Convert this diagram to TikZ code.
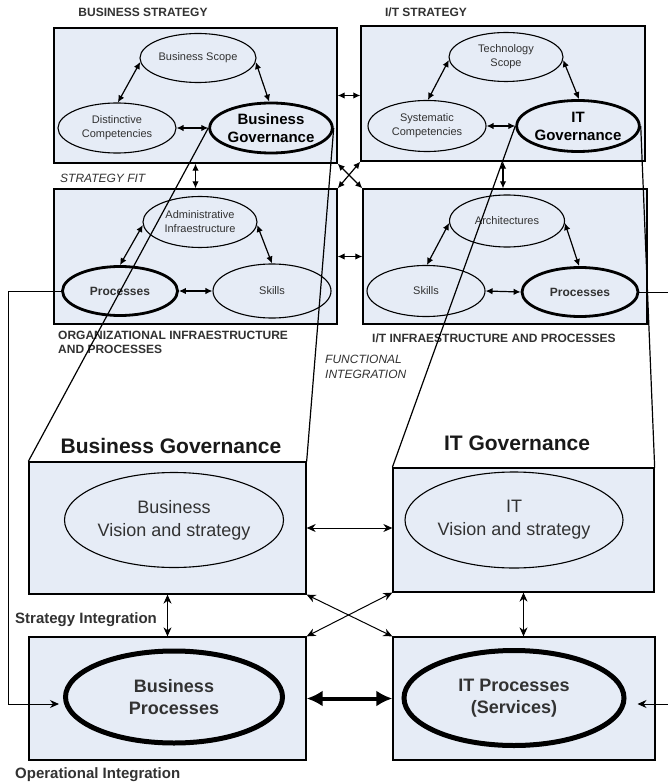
\documentclass[tikz,border=0pt]{standalone}
\usepackage{fontspec}
\setmainfont{Liberation Sans}
\usetikzlibrary{arrows.meta,shapes.geometric}
\definecolor{boxfill}{RGB}{230,236,246}
\definecolor{txtgray}{RGB}{50,50,50}
\begin{document}
\begin{tikzpicture}[x=1pt,y=-1pt,
  box/.style={draw, line width=1.3pt, fill=boxfill, rectangle, inner sep=0pt},
  ell/.style={draw, ellipse, fill=boxfill, line width=1.1pt, inner sep=0pt, align=center,
    font=\fontsize{11}{14}\selectfont, text=txtgray},
  ellg/.style={draw, ellipse, fill=boxfill, line width=2.8pt, inner sep=0pt, align=center,
    font=\fontsize{15}{18}\selectfont\bfseries, text=black},
  ellp/.style={draw, ellipse, fill=boxfill, line width=2.8pt, inner sep=0pt, align=center,
    font=\fontsize{12}{14}\selectfont\bfseries, text=txtgray},
  ellv/.style={draw, ellipse, fill=boxfill, line width=1.1pt, inner sep=0pt, align=center,
    font=\fontsize{18}{23}\selectfont, text=txtgray},
  ellbp/.style={draw, ellipse, fill=boxfill, line width=5pt, inner sep=0pt, align=center,
    font=\fontsize{18}{22.5}\selectfont\bfseries, text=txtgray},
  lbl/.style={inner sep=0pt, font=\fontsize{12}{14}\selectfont\bfseries, text=txtgray},
  ital/.style={inner sep=0pt, font=\fontsize{12}{14}\selectfont\itshape, text=txtgray},
  big/.style={inner sep=0pt, font=\fontsize{21}{24}\selectfont\bfseries, text=black!90},
  mid/.style={inner sep=0pt, font=\fontsize{15}{18}\selectfont\bfseries, text=txtgray},
  sarr/.style={line width=1.2pt, {Latex[length=7pt,width=6.5pt]}-{Latex[length=7pt,width=6.5pt]}},
  barr/.style={line width=1pt, {Stealth[length=9pt,width=8pt]}-{Stealth[length=9pt,width=8pt]}},
  onearr/.style={line width=1pt, -{Stealth[length=9pt,width=8pt]}},
  fatarr/.style={line width=4pt, {Latex[length=16pt,width=16pt]}-{Latex[length=16pt,width=16pt]}},
  conn/.style={line width=1.2pt}
]
\useasboundingbox (0,0) rectangle (668,783);
\fill[white] (0,0) rectangle (668,783);

% boxes
\node[box, minimum width=283pt, minimum height=135pt] (bsbox) at (195.5,95.5) {};
\node[box, minimum width=284pt, minimum height=135pt] (itsbox) at (503,93.5) {};
\node[box, minimum width=283pt, minimum height=135pt] (oibox) at (195.5,256.5) {};
\node[box, minimum width=284pt, minimum height=135pt] (itibox) at (505,256.5) {};
\node[box, minimum width=277pt, minimum height=132pt] (bvbox) at (167.5,528) {};
\node[box, minimum width=261pt, minimum height=124pt] (itvbox) at (523.5,530) {};
\node[box, minimum width=277pt, minimum height=123pt] (bpbox) at (167.5,698.5) {};
\node[box, minimum width=262pt, minimum height=123pt] (itpbox) at (524,698.5) {};

% top-left ellipses
\node[ell, minimum width=116pt, minimum height=49pt] (bs) at (198,58) {Business Scope};
\node[ell, minimum width=118pt, minimum height=50pt] (dc) at (117,128) {Distinctive\\Competencies};
\node[ellg, minimum width=115pt, minimum height=50pt] (bg) at (271,128) {Business\\Governance};
% top-right ellipses
\node[ell, minimum width=114pt, minimum height=49pt] (ts) at (506,57) {Technology\\Scope};
\node[ell, minimum width=118pt, minimum height=51pt] (sc) at (427,126) {Systematic\\Competencies};
\node[ellg, minimum width=116pt, minimum height=51pt] (itg) at (578,126) {IT\\Governance};
% middle-left ellipses
\node[ell, minimum width=114pt, minimum height=51pt] (ad) at (200,222) {Administrative\\Infraestructure};
\node[ellp, minimum width=115pt, minimum height=49pt] (op) at (120,291) {Processes};
\node[ell, minimum width=118pt, minimum height=54pt] (osk) at (272,291) {Skills};
% middle-right ellipses
\node[ell, minimum width=115pt, minimum height=52pt] (ar) at (507,221) {Architectures};
\node[ell, minimum width=118pt, minimum height=51pt] (isk) at (426,291) {Skills};
\node[ellp, minimum width=116pt, minimum height=49pt] (ip) at (580,292) {Processes};
% bottom ellipses
\node[ellv, minimum width=219pt, minimum height=95pt] (bv) at (174,520) {Business\\Vision and strategy};
\node[ellv, minimum width=218pt, minimum height=96pt] (iv) at (514,520) {IT\\Vision and strategy};
\node[ellbp, minimum width=217pt, minimum height=92pt] (bp) at (174,697) {Business\\Processes};
\node[ellbp, minimum width=220pt, minimum height=95pt] (itp) at (514,698) {IT Processes\\(Services)};

% labels
\node[lbl, anchor=base] (t1) at (143,17) {BUSINESS STRATEGY};
\node[lbl, anchor=base] (t2) at (426,17) {I/T STRATEGY};
\node[ital, anchor=base west] (t3) at (60,183) {STRATEGY FIT};
\node[lbl, anchor=base west] (t4a) at (58,339) {ORGANIZATIONAL INFRAESTRUCTURE};
\node[lbl, anchor=base west] (t4b) at (58,353) {AND PROCESSES};
\node[lbl, anchor=base west] (t5) at (372,342) {I/T INFRAESTRUCTURE AND PROCESSES};
\node[ital, anchor=base west] (t6a) at (325,363) {FUNCTIONAL};
\node[ital, anchor=base west] (t6b) at (325,378) {INTEGRATION};
\node[big, anchor=base] (t7) at (171,453) {Business Governance};
\node[big, anchor=base] (t8) at (517,450) {IT Governance};
\node[mid, anchor=base west] (t9) at (15,623) {Strategy Integration};
\node[mid, anchor=base west] (t10) at (15,778) {Operational Integration};

% arrows inside top-left
\draw[sarr] (bs.184) -- (dc.88);
\draw[sarr] (bs.356) -- (bg.94);
\draw[sarr] (dc.east) -- (bg.west);
% top-right
\draw[sarr] (ts.183) -- (sc.88);
\draw[sarr] (ts.357) -- (itg.88);
\draw[sarr] (sc.east) -- (itg.west);
% middle-left
\draw[sarr] (ad.183) -- (op.90);
\draw[sarr] (ad.357) -- (osk.90);
\draw[sarr] (op.east) -- (osk.west);
% middle-right
\draw[sarr] (ar.182) -- (isk.88);
\draw[sarr] (ar.358) -- (ip.92);
\draw[sarr] (isk.east) -- (ip.west);

% between upper boxes
\draw[sarr] (bsbox.east) -- (bsbox.east -| itsbox.west);
\draw[sarr] (oibox.east) -- (oibox.east -| itibox.west);
\draw[sarr] (bsbox.south east) -- (itibox.north west);
\draw[sarr] (itsbox.south west) -- (oibox.north east);
\draw[sarr] (bsbox.south) -- (oibox.north);
\draw[sarr] (itsbox.south) -- (itsbox.south |- itibox.north);

% bottom arrows
\draw[barr] (bvbox.east) -- (bvbox.east -| itvbox.west);
\draw[barr] (bvbox.south) -- (bpbox.north);
\draw[barr] (itvbox.south) -- (itvbox.south |- itpbox.north);
\draw[barr] (bvbox.south east) -- (itpbox.north west);
\draw[barr] (bpbox.north east) -- (itvbox.south west);
\draw[fatarr] (bpbox.east) -- (itpbox.west);

% zoom lines
\draw[conn] (bg.west) -- (bvbox.north west);
\draw[conn] (bg.east) -- (bvbox.north east);
\draw[conn] (itg.west) -- (itvbox.north west);
\draw[conn] (itg.east) -- (itvbox.north east);

% side connectors
\coordinate (lc) at (8,704);
\coordinate (rc) at (675,704);
\draw[onearr] (op.west) -| (lc) -- ([xshift=-4pt]lc -| bp.west);
\draw[onearr] (ip.east) -| (rc) -- ([xshift=11pt]rc -| itp.east);
\end{tikzpicture}
\end{document}
